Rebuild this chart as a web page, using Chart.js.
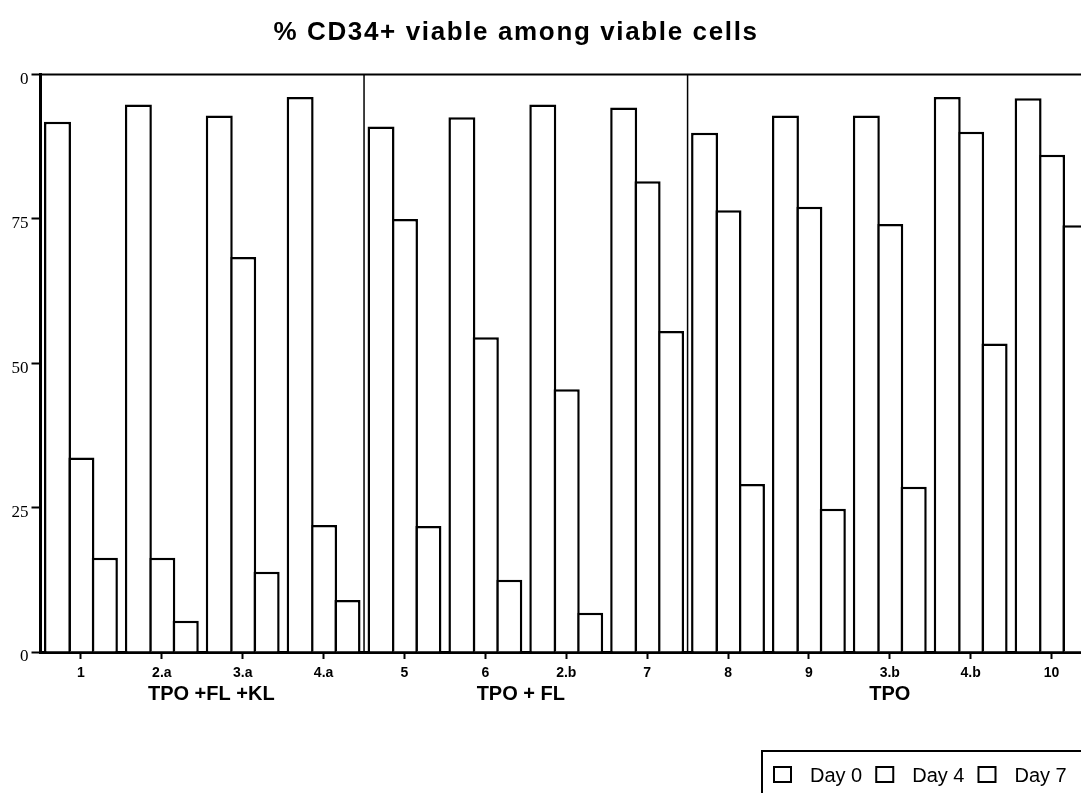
<!DOCTYPE html>
<html>
<head>
<meta charset="utf-8">
<script src="https://cdn.jsdelivr.net/npm/chart.js@4"></script>
<style>
  body { margin: 0; background: #fff; overflow: hidden; }
  #wrap { width: 1081px; height: 793px; overflow: hidden; }
</style>
</head>
<body>
<div id="wrap"><canvas id="chart" width="1100" height="793"></canvas></div>
<script>
// categories along the x axis
const categories = ['1', '2.a', '3.a', '4.a', '5', '6', '2.b', '7', '8', '9', '3.b', '4.b', '10'];
// % CD34+ viable among viable cells
const day0 = [91.8, 94.8, 92.9, 96.1, 91.0, 92.6, 94.8, 94.3, 89.9, 92.9, 92.9, 96.1, 95.9];
const day4 = [33.7, 16.3, 68.4, 22.0, 75.0, 54.5, 45.5, 81.5, 76.5, 77.1, 74.1, 90.1, 86.1];
const day7 = [16.3, 5.4, 13.9, 9.0, 21.8, 12.5, 6.8, 55.6, 29.1, 24.8, 28.6, 53.4, 73.9];
const seriesNames = ['Day 0', 'Day 4', 'Day 7'];
// culture conditions, each spanning a run of categories
const groupNames = ['TPO +FL +KL', 'TPO + FL', 'TPO'];
const groupSizes = [4, 4, 5];
const yTicks = [0, 25, 50, 75, 100];
const titleText = '% CD34+ viable among viable cells';

const SANS = '"Liberation Sans", Arial, sans-serif';

function dataset(label, values) {
  return {
    label: label,
    data: values,
    backgroundColor: '#fff',
    borderColor: '#000',
    borderWidth: 2.5,
    categoryPercentage: 0.87,
    barPercentage: 1.15
  };
}

const extras = {
  id: 'extras',
  afterDatasetsDraw(chart) {
    const ctx = chart.ctx;
    const area = chart.chartArea;
    const x = chart.scales.x;
    ctx.save();
    // top frame line
    ctx.strokeStyle = '#000';
    ctx.lineWidth = 2;
    ctx.beginPath();
    ctx.moveTo(area.left, area.top);
    ctx.lineTo(area.right, area.top);
    ctx.stroke();
    // separators between groups
    ctx.lineWidth = 1.5;
    let idx = 0;
    groupSizes.slice(0, -1).forEach(n => {
      idx += n;
      const px = (x.getPixelForValue(idx - 1) + x.getPixelForValue(idx)) / 2;
      ctx.beginPath();
      ctx.moveTo(px, area.top);
      ctx.lineTo(px, area.bottom);
      ctx.stroke();
    });
    ctx.restore();
  },
  afterDraw(chart) {
    const ctx = chart.ctx;
    const x = chart.scales.x;
    ctx.save();
    ctx.fillStyle = '#000';
    ctx.textBaseline = 'middle';
    ctx.textAlign = 'center';

    // title
    ctx.font = 'bold 26px ' + SANS;
    const w = ctx.measureText(titleText).width;
    if ('letterSpacing' in ctx && w < 485) ctx.letterSpacing = ((485 - w) / titleText.length).toFixed(2) + 'px';
    ctx.fillText(titleText, 516, 33);
    if ('letterSpacing' in ctx) ctx.letterSpacing = '0px';

    // group labels under the axis
    ctx.font = 'bold 20px ' + SANS;
    let start = 0;
    groupNames.forEach((name, i) => {
      const end = start + groupSizes[i] - 1;
      const cx = (x.getPixelForValue(start) + x.getPixelForValue(end)) / 2;
      ctx.fillText(name, cx + (i === 0 ? 9 : i === 1 ? -5 : 0), 694);
      start = end + 1;
    });

    // legend box
    ctx.strokeStyle = '#000';
    ctx.lineWidth = 2;
    ctx.strokeRect(762, 751, 400, 100);
    ctx.font = '20px ' + SANS;
    ctx.textAlign = 'left';
    let lx = 774;
    chart.data.datasets.forEach(ds => {
      ctx.fillStyle = ds.backgroundColor;
      ctx.fillRect(lx, 767, 17, 15);
      ctx.strokeRect(lx, 767, 17, 15);
      ctx.fillStyle = '#000';
      ctx.fillText(ds.label, lx + 36, 776);
      lx += 36 + ctx.measureText(ds.label).width + 14;
    });
    ctx.restore();
  }
};

new Chart(document.getElementById('chart'), {
  type: 'bar',
  data: {
    labels: categories,
    datasets: [
      dataset(seriesNames[0], day0),
      dataset(seriesNames[1], day4),
      dataset(seriesNames[2], day7)
    ]
  },
  options: {
    responsive: false,
    animation: false,
    events: [],
    layout: { padding: { top: 74.5, right: 8, left: 0, bottom: 0 } },
    plugins: {
      legend: { display: false },
      title: { display: false },
      tooltip: { enabled: false }
    },
    scales: {
      x: {
        afterFit(scale) { scale.height = 141; },
        grid: { drawOnChartArea: false, offset: false, tickLength: 7, tickWidth: 2, tickColor: '#000' },
        border: { display: true, color: '#000', width: 3 },
        ticks: {
          color: '#000',
          font: { family: SANS, size: 14, weight: 'bold' },
          padding: 6,
          maxRotation: 0,
          autoSkip: false
        }
      },
      y: {
        min: 0,
        max: 100,
        afterFit(scale) { scale.width = 40.5; },
        afterBuildTicks(scale) { scale.ticks = yTicks.map(v => ({ value: v })); },
        grid: { drawOnChartArea: false, tickLength: 9, tickWidth: 2, tickColor: '#000' },
        border: { display: true, color: '#000', width: 3 },
        ticks: {
          color: '#000',
          font: { family: '"Liberation Serif", "Times New Roman", serif', size: 17 },
          padding: 3,
          labelOffset: 5,
          // the top label reads "0" in the original (clipped "100")
          callback: v => (v === 100 ? '0' : String(v))
        }
      }
    }
  },
  plugins: [extras]
});
</script>
</body>
</html>
